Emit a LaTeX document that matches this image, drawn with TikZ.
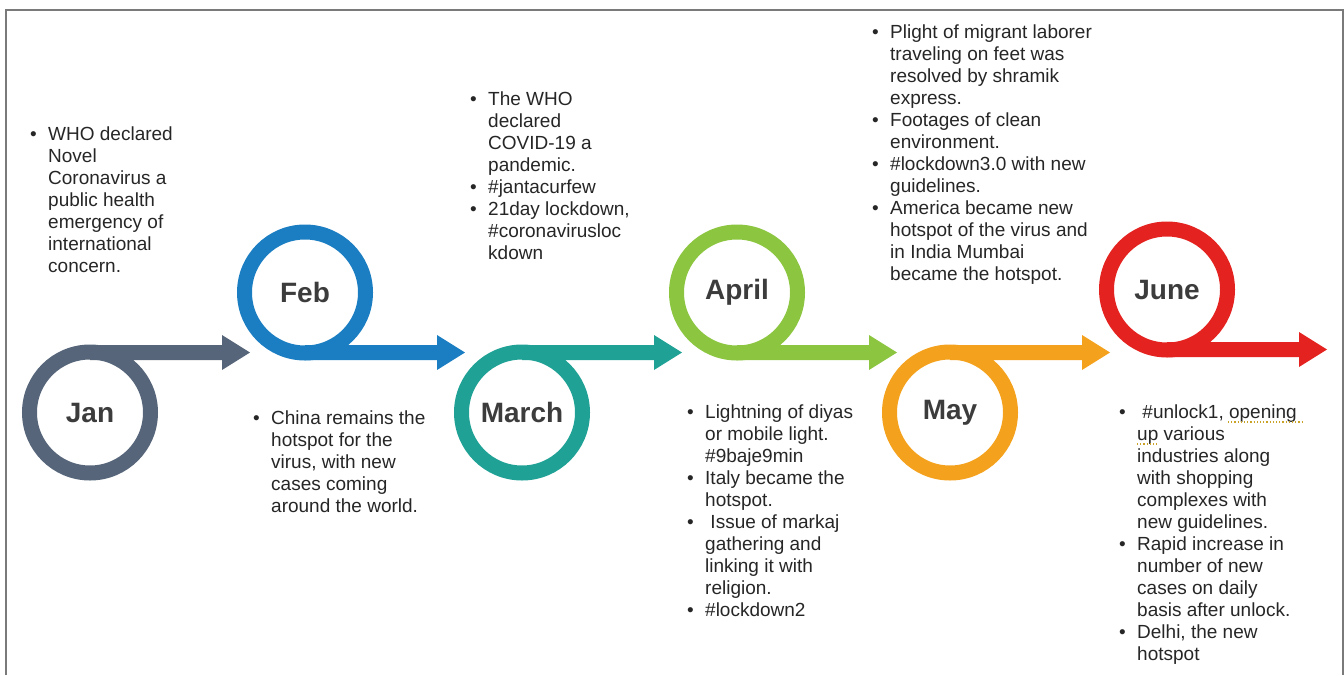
\documentclass[tikz,border=0pt]{standalone}
\usepackage{fontspec}
\setmainfont{Liberation Sans}
\usetikzlibrary{calc}
\definecolor{cjan}{HTML}{56657A}
\definecolor{cfeb}{HTML}{1B7EC2}
\definecolor{cmar}{HTML}{1FA195}
\definecolor{capr}{HTML}{8CC540}
\definecolor{cmay}{HTML}{F4A11D}
\definecolor{cjun}{HTML}{E42320}
\definecolor{clabel}{HTML}{3C3C3C}
\definecolor{ctext}{HTML}{262626}
\definecolor{cframe}{HTML}{7A7A7A}
\definecolor{cund}{HTML}{C9A227}
\newcommand{\bl}{\makebox[18pt][l]{\textbullet}}
\newcommand{\ind}{\hspace*{18pt}}
% arrow from ring node: #1 node, #2 vertical offset of shaft centre, #3 colour
\newcommand{\ringarrow}[3]{%
  \fill[#3] ($(#1.center)+(0,#2-7.5)$) -- ++(132,0) -- ++(0,-10) -- ++(28,17.5)
    coordinate (#1tip) -- ++(-28,17.5) -- ++(0,-10) -- ($(#1.center)+(0,#2+7.5)$) -- cycle;}
\begin{document}
\begin{tikzpicture}[x=1pt,y=-1pt,
  ring/.style={circle, draw=#1, line width=15pt, minimum size=121pt, inner sep=0pt,
    font=\fontsize{28}{32}\selectfont\bfseries, text=clabel},
  txt/.style={anchor=north west, align=left, inner sep=0pt, text=ctext,
    font=\fontsize{19}{22}\selectfont}]
\useasboundingbox (0,0) rectangle (1344,675);
\draw[cframe, line width=1.8pt] (6,675) -- (6,10) -- (1343,10) -- (1343,675);

% rings (positions)
\path (90,412.5) coordinate (pjan);
\path (305,292.5) coordinate (pfeb);
\path (522,412.5) coordinate (pmar);
\path (737,292.5) coordinate (papr);
\path (950,412.5) coordinate (pmay);
\path (1167,289.5) coordinate (pjun);

\node[ring=cjan, draw=none] (jan) at (pjan) {};
\node[ring=cfeb, draw=none] (feb) at (pfeb) {};
\node[ring=cmar, draw=none] (mar) at (pmar) {};
\node[ring=capr, draw=none] (apr) at (papr) {};
\node[ring=cmay, draw=none] (may) at (pmay) {};
\node[ring=cjun, draw=none] (jun) at (pjun) {};

\ringarrow{jan}{-60}{cjan}
\ringarrow{feb}{60}{cfeb}
\ringarrow{mar}{-60}{cmar}
\ringarrow{apr}{60}{capr}
\ringarrow{may}{-60}{cmay}
\ringarrow{jun}{60}{cjun}

\node[ring=cjan] at (jan.center) {Jan};
\node[ring=cfeb] at (feb.center) {Feb};
\node[ring=cmar] at (mar.center) {March};
\node[ring=capr] at (apr.center) {April};
\node[ring=cmay] at (may.center) {May};
\node[ring=cjun] at (jun.center) {June};

% text blocks
\node[txt] (tjan) at (30,126.4) {\bl WHO declared\\ \ind Novel\\ \ind Coronavirus a\\ \ind public health\\ \ind emergency of\\ \ind international\\ \ind concern.};

\node[txt] (tfeb) at (253,410.4) {\bl China remains the\\ \ind hotspot for the\\ \ind virus, with new\\ \ind cases coming\\ \ind around the world.};

\node[txt] (tmar) at (470,91.4) {\bl The WHO\\ \ind declared\\ \ind COVID-19 a\\ \ind pandemic.\\ \bl \#jantacurfew\\ \bl 21day lockdown,\\ \ind \#coronavirusloc\\ \ind kdown};

\node[txt] (tapr) at (687,404.4) {\bl Lightning of diyas\\ \ind or mobile light.\\ \ind \#9baje9min\\ \bl Italy became the\\ \ind hotspot.\\ \bl \ Issue of markaj\\ \ind gathering and\\ \ind linking it with\\ \ind religion.\\ \bl \#lockdown2};

\node[txt] (tmay) at (872,24.4) {\bl Plight of migrant laborer\\ \ind traveling on feet was\\ \ind resolved by shramik\\ \ind express.\\ \bl Footages of clean\\ \ind environment.\\ \bl \#lockdown3.0 with new\\ \ind guidelines.\\ \bl America became new\\ \ind hotspot of the virus and\\ \ind in India Mumbai\\ \ind became the hotspot.};

\node[txt] (tjun) at (1119,404.4) {\bl \ \#unlock1, opening\\ \ind up various\\ \ind industries along\\ \ind with shopping\\ \ind complexes with\\ \ind new guidelines.\\ \bl Rapid increase in\\ \ind number of new\\ \ind cases on daily\\ \ind basis after unlock.\\ \bl Delhi, the new\\ \ind hotspot};

% spell-check marks
\draw[cund, dotted, line width=1.2pt] (1228,422) -- (1302,422);
\draw[cund, dotted, line width=1.2pt] (1137,444) -- (1158,444);
\end{tikzpicture}
\end{document}
